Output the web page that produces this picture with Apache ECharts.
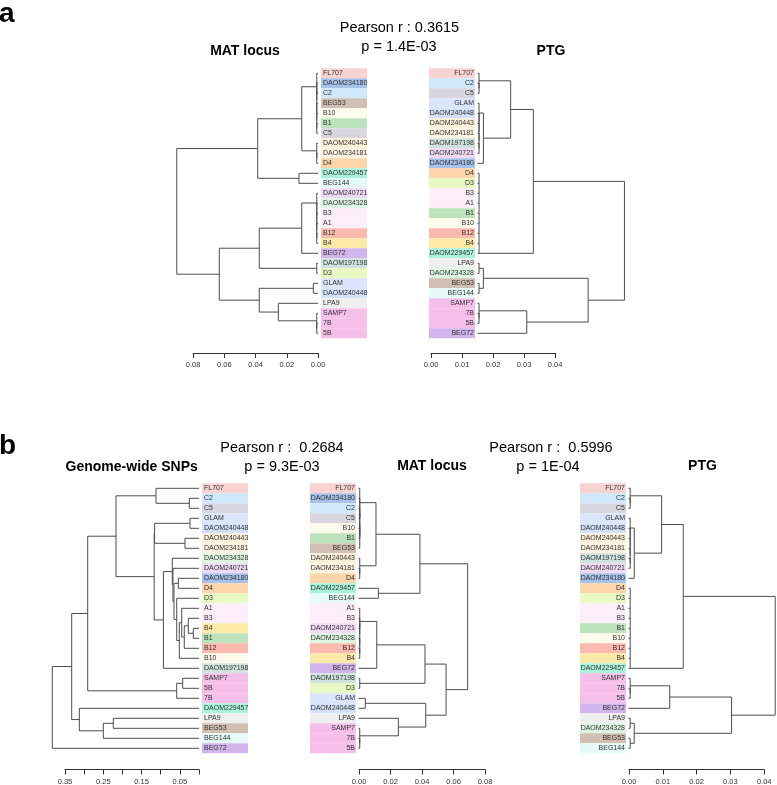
<!DOCTYPE html>
<html>
<head>
<meta charset="utf-8">
<script src="https://cdn.jsdelivr.net/npm/echarts@6/dist/echarts.min.js"></script>
<style>
  html, body { margin: 0; padding: 0; background: #fff; }
  #chart { width: 777px; height: 785px; }
</style>
</head>
<body>
<div id="chart"></div>
<script>
const FONT = '"Liberation Sans", Arial, Helvetica, sans-serif';

// near-zero merge heights (the short stubs next to the labels)
const z = 0.0008;
const zp = 0.0005;

// strain colours, same in every dendrogram
const strainColors = {
  FL707: '#f9d2d2', DAOM234180: '#a6c2ea', C2: '#cfe8fb', BEG53: '#d2beb3',
  B10: '#fffbec', B1: '#bce3bc', C5: '#dad6e0', DAOM240443: '#fdf0da',
  DAOM234181: '#fdf3e0', D4: '#fdd5aa', DAOM229457: '#aaf3da', BEG144: '#e6fbf8',
  DAOM240721: '#f1d9f4', DAOM234328: '#ddf6e4', B3: '#fdeef9', A1: '#fdeef9',
  B12: '#fcbaae', B4: '#fde9a8', BEG72: '#d1b5ec', DAOM197198: '#cfe3de',
  D3: '#e8f9c3', GLAM: '#dbe5fb', DAOM240448: '#d3e0f9', LPA9: '#efefef',
  SAMP7: '#f6bfe9', '7B': '#f6bfe9', '5B': '#f6bfe9'
};

// ---- panel a : MAT locus ----
const aMatOrder = ['FL707', 'DAOM234180', 'C2', 'BEG53', 'B10', 'B1', 'C5', 'DAOM240443', 'DAOM234181', 'D4',
  'DAOM229457', 'BEG144', 'DAOM240721', 'DAOM234328', 'B3', 'A1', 'B12', 'B4', 'BEG72', 'DAOM197198', 'D3',
  'GLAM', 'DAOM240448', 'LPA9', 'SAMP7', '7B', '5B'];
const aMatTree = [0.0904,
  [0.0386,
    [0.0104,
      [z, 'FL707', [z, [z, 'DAOM234180', 'C2'], [z, 'BEG53', [z, 'B10', [z, 'B1', 'C5']]]]],
      [z, 'DAOM240443', [z, 'DAOM234181', 'D4']]],
    [0.0122, 'DAOM229457', 'BEG144']],
  [0.0632,
    [0.0376,
      [0.0104, [z, 'DAOM240721', [z, 'DAOM234328', [z, 'B3', [z, 'A1', [z, 'B12', 'B4']]]]], 'BEG72'],
      [z, 'DAOM197198', 'D3']],
    [0.0376,
      [0.003, 'GLAM', 'DAOM240448'],
      [0.0254, 'LPA9', [z, 'SAMP7', [z, '7B', '5B']]]]]];

// ---- panel a : PTG ----
const aPtgOrder = ['FL707', 'C2', 'C5', 'GLAM', 'DAOM240448', 'DAOM240443', 'DAOM234181', 'DAOM197198', 'DAOM240721',
  'DAOM234180', 'D4', 'D3', 'B3', 'A1', 'B1', 'B10', 'B12', 'B4', 'DAOM229457', 'LPA9', 'DAOM234328', 'BEG53',
  'BEG144', 'SAMP7', '7B', '5B', 'BEG72'];
const aPtgTree = [0.0474,
  [0.018,
    [0.0107,
      [zp, 'FL707', [zp, 'C2', 'C5']],
      [0.0019, [zp, 'GLAM', [zp, 'DAOM240448', [zp, 'DAOM240443', [zp, 'DAOM234181', [zp, 'DAOM197198', 'DAOM240721']]]]], 'DAOM234180']],
    { h: zp, at: 'DAOM229457', c: ['D4', 'D3', 'B3', 'A1', 'B1', 'B10', 'B12', 'B4', 'DAOM229457'] }],
  [0.0357,
    [0.0019, [zp, 'LPA9', 'DAOM234328'], [zp, 'BEG53', 'BEG144']],
    [0.0159, [zp, 'SAMP7', [zp, '7B', '5B']], 'BEG72']]];

// ---- panel b : genome-wide SNPs ----
const bSnpOrder = ['FL707', 'C2', 'C5', 'GLAM', 'DAOM240448', 'DAOM240443', 'DAOM234181', 'DAOM234328', 'DAOM240721',
  'DAOM234180', 'D4', 'D3', 'A1', 'B3', 'B4', 'B1', 'B12', 'B10', 'DAOM197198', 'SAMP7', '5B', '7B', 'DAOM229457',
  'LPA9', 'BEG53', 'BEG144', 'BEG72'];
const bSnpTree = [0.383,
  [0.3324,
    [0.2906,
      [0.2167,
        [0.1123, 'FL707', [0.0253, 'C2', 'C5']],
        [0.117,
          [0.116, [0.0235, 'GLAM', 'DAOM240448'], [0.0366, 'DAOM240443', 'DAOM234181']],
          [0.093,
            [0.0697, 'DAOM234328',
              [0.068, 'DAOM240721',
                [0.0653,
                  [0.054, 'DAOM234180', 'D4'],
                  [0.0582, 'D3',
                    [0.0514, [0.0452, 'A1', [0.0384, [0.0279, 'B3', [0.0149, 'B4', 'B1']], 'B12']], 'B10']]]]],
            'DAOM197198']]],
      [0.0582, [0.0426, 'SAMP7', '5B'], '7B']],
    [0.3125, 'DAOM229457', [0.2498, [0.2238, 'LPA9', 'BEG53'], 'BEG144']]],
  'BEG72'];

// ---- panel b : MAT locus ----
const bMatOrder = ['FL707', 'DAOM234180', 'C2', 'C5', 'B10', 'B1', 'BEG53', 'DAOM240443', 'DAOM234181', 'D4',
  'DAOM229457', 'BEG144', 'A1', 'B3', 'DAOM240721', 'DAOM234328', 'B12', 'B4', 'BEG72', 'DAOM197198', 'D3',
  'GLAM', 'DAOM240448', 'LPA9', 'SAMP7', '7B', '5B'];
const bMatTree = [0.0693,
  [0.039,
    [0.0111,
      [z, 'FL707', [z, 'DAOM234180', [z, [z, [z, 'C2', 'C5'], [z, 'B10', 'B1']], 'BEG53']]],
      [z, 'DAOM240443', [z, 'DAOM234181', 'D4']]],
    [0.0126, 'DAOM229457', 'BEG144']],
  [0.0556,
    [0.0422,
      [0.0116, [z, 'A1', [z, [z, 'B3', 'DAOM240721'], [z, 'DAOM234328', [z, 'B12', 'B4']]]], 'BEG72'],
      [z, 'DAOM197198', 'D3']],
    [0.0427,
      [0.0043, 'GLAM', 'DAOM240448'],
      [0.0253, 'LPA9', [z, 'SAMP7', [z, '7B', '5B']]]]]];

// ---- panel b : PTG ----
const bPtgOrder = ['FL707', 'C2', 'C5', 'GLAM', 'DAOM240448', 'DAOM240443', 'DAOM234181', 'DAOM197198', 'DAOM240721',
  'DAOM234180', 'D4', 'D3', 'A1', 'B3', 'B1', 'B10', 'B12', 'B4', 'DAOM229457', 'SAMP7', '7B', '5B', 'BEG72',
  'LPA9', 'DAOM234328', 'BEG53', 'BEG144'];
const bPtgTree = [0.0434,
  [0.0162,
    [0.0098,
      [zp, 'FL707', [zp, 'C2', 'C5']],
      [0.0017, [zp, 'GLAM', [zp, 'DAOM240448', [zp, 'DAOM240443', [zp, 'DAOM234181', [zp, 'DAOM197198', 'DAOM240721']]]]], 'DAOM234180']],
    { h: zp, at: 'DAOM229457', c: ['D4', 'D3', 'A1', 'B3', 'B1', 'B10', 'B12', 'B4', 'DAOM229457'] }],
  [0.0305,
    [0.0122, [zp, 'SAMP7', [zp, '7B', '5B']], 'BEG72'],
    [0.0017, [zp, 'LPA9', 'DAOM234328'], [zp, 'BEG53', 'BEG144']]]];

// texts
const headings = [
  { text: 'a', x: -1, y: 14.5, size: 28, bold: true, align: 'left' },
  { text: 'Pearson r : 0.3615', x: 399.5, y: 28, size: 14.5 },
  { text: 'p = 1.4E-03', x: 399, y: 46.5, size: 14.5 },
  { text: 'MAT locus', x: 245, y: 51.5, size: 14, bold: true },
  { text: 'PTG', x: 551, y: 51.5, size: 14, bold: true },
  { text: 'b', x: -1, y: 446.5, size: 28, bold: true, align: 'left' },
  { text: 'Genome-wide SNPs', x: 131.7, y: 467, size: 14, bold: true },
  { text: 'Pearson r :  0.2684', x: 282, y: 448, size: 14.5 },
  { text: 'p = 9.3E-03', x: 282, y: 466.5, size: 14.5 },
  { text: 'MAT locus', x: 432, y: 465.8, size: 14, bold: true },
  { text: 'Pearson r :  0.5996', x: 551, y: 448, size: 14.5 },
  { text: 'p = 1E-04', x: 548, y: 466.5, size: 14.5 },
  { text: 'PTG', x: 702.5, y: 465.8, size: 14, bold: true }
];

// layout of each dendrogram (pixel placement, px per unit of distance)
const panels = [
  { order: aMatOrder, tree: aMatTree, side: 'left', leafX: 318, ppu: 1562, span: 0.1, top: 68.3,
    axisY: 353, axisX0: 318, axisMax: 0.08, tick: 0.02 },
  { order: aPtgOrder, tree: aPtgTree, side: 'right', leafX: 477.5, ppu: 3100, span: 0.05, top: 68.3,
    axisY: 353, axisX0: 431, axisMax: 0.04, tick: 0.01 },
  { order: bSnpOrder, tree: bSnpTree, side: 'left', leafX: 199, ppu: 383, span: 0.4, top: 483.3,
    axisY: 769.5, axisX0: 199, axisMax: 0.35, tick: 0.05, oddOnly: true },
  { order: bMatOrder, tree: bMatTree, side: 'right', leafX: 358.5, ppu: 1575, span: 0.08, top: 483.3,
    axisY: 769.5, axisX0: 359, axisMax: 0.08, tick: 0.02 },
  { order: bPtgOrder, tree: bPtgTree, side: 'right', leafX: 628.5, ppu: 3380, span: 0.0438, top: 483.3,
    axisY: 769.5, axisX0: 629, axisMax: 0.04, tick: 0.01 }
];

// turn a nested tree into branch segments [h1, y1, h2, y2] (y = leaf index)
function buildSegments(tree, order) {
  const segs = [];
  function walk(node) {
    if (typeof node === 'string') return { y: order.indexOf(node), h: 0 };
    let h, kids, at;
    if (Array.isArray(node)) { h = node[0]; kids = node.slice(1); }
    else { h = node.h; kids = node.c; at = node.at; }
    const placed = kids.map(walk);
    const ys = placed.map(p => p.y);
    segs.push([h, Math.min(...ys), h, Math.max(...ys)]);
    placed.forEach(p => segs.push([p.h, p.y, h, p.y]));
    const y = at ? order.indexOf(at) : (ys[0] + ys[ys.length - 1]) / 2;
    return { y, h };
  }
  walk(tree);
  return segs;
}

function renderBranch(params, api) {
  const a = api.coord([api.value(0), api.value(1)]);
  const b = api.coord([api.value(2), api.value(3)]);
  return {
    type: 'line',
    shape: { x1: a[0], y1: a[1], x2: b[0], y2: b[1] },
    style: { stroke: '#4d4d4d', lineWidth: 1 }
  };
}

function labelRich(align) {
  const rich = {};
  Object.keys(strainColors).forEach(name => {
    rich['k' + name] = {
      backgroundColor: strainColors[name],
      width: 44, height: 10, lineHeight: 10,
      padding: align === 'left' ? [0, 0, 0, 2] : [0, 1, 0, 1],
      align: align, fontSize: 7, fontFamily: FONT, color: '#333'
    };
  });
  return rich;
}

const grid = [], xAxis = [], yAxis = [], series = [];

panels.forEach(p => {
  const n = p.order.length;
  const w = p.span * p.ppu;
  const leftRoot = p.side === 'left';

  // dendrogram grid
  grid.push({ left: leftRoot ? p.leafX - w : p.leafX, top: p.top, width: w, height: n * 10, outerBoundsMode: 'none' });
  const gi = grid.length - 1;
  xAxis.push({ gridIndex: gi, type: 'value', min: 0, max: p.span, inverse: leftRoot, show: false });
  const xi = xAxis.length - 1;
  yAxis.push({ gridIndex: gi, type: 'value', min: -0.5, max: n - 0.5, inverse: true, show: false,
    position: leftRoot ? 'left' : 'right' });
  const yi = yAxis.length - 1;
  yAxis.push({
    gridIndex: gi, type: 'category', data: p.order, inverse: true,
    position: leftRoot ? 'right' : 'left',
    axisLine: { show: false }, axisTick: { show: false }, splitLine: { show: false },
    axisLabel: {
      interval: 0, margin: leftRoot ? 3 : 2.5,
      formatter: v => '{k' + v + '|' + v + '}',
      rich: labelRich(leftRoot ? 'left' : 'right')
    }
  });
  series.push({
    type: 'custom', xAxisIndex: xi, yAxisIndex: yi,
    renderItem: renderBranch,
    encode: { x: [0, 2], y: [1, 3] },
    data: buildSegments(p.tree, p.order),
    silent: true, animation: false
  });

  // scale bar underneath
  const aw = p.axisMax * p.ppu;
  grid.push({ left: leftRoot ? p.axisX0 - aw : p.axisX0, top: p.axisY - 1, width: aw, height: 1, outerBoundsMode: 'none' });
  const gj = grid.length - 1;
  xAxis.push({
    gridIndex: gj, type: 'value', min: 0, max: p.axisMax, interval: p.tick, inverse: leftRoot,
    axisLine: { show: true, lineStyle: { color: '#333', width: 1 } },
    axisTick: { show: true, length: 5, lineStyle: { color: '#333', width: 1 } },
    splitLine: { show: false },
    axisLabel: {
      margin: 8, fontSize: 7.5, fontFamily: FONT, color: '#333',
      formatter: v => {
        if (p.oddOnly && Math.round(v * 100) % 10 !== 5) return '';
        return v.toFixed(2);
      }
    }
  });
  yAxis.push({ gridIndex: gj, type: 'value', show: false });
  series.push({ type: 'custom', xAxisIndex: xAxis.length - 1, yAxisIndex: yAxis.length - 1,
    renderItem: () => null, data: [], silent: true });
});

const chart = echarts.init(document.getElementById('chart'), null, { renderer: 'canvas' });
chart.setOption({
  animation: false,
  backgroundColor: '#fff',
  grid, xAxis, yAxis, series,
  graphic: headings.map(t => ({
    type: 'text', x: t.x, y: t.y, silent: true,
    style: {
      text: t.text,
      fontSize: t.size, fontWeight: t.bold ? 'bold' : 'normal', fontFamily: FONT,
      fill: '#000', align: t.align || 'center', verticalAlign: 'middle'
    }
  }))
});
</script>
</body>
</html>
